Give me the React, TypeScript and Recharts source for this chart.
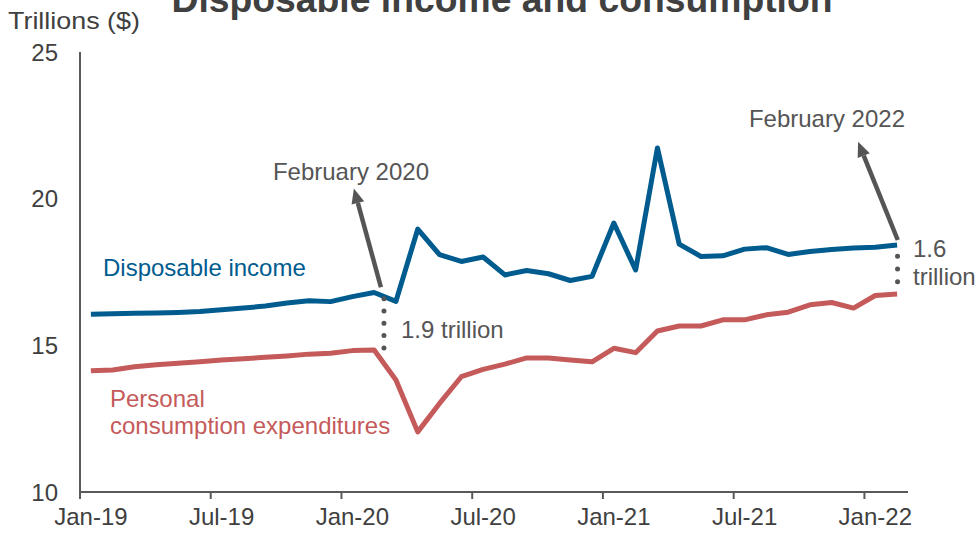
import { LineChart, Line, XAxis, YAxis, ReferenceLine } from "recharts";

const months = [
  "Jan-19", "Feb-19", "Mar-19", "Apr-19", "May-19", "Jun-19", "Jul-19", "Aug-19", "Sep-19", "Oct-19", "Nov-19", "Dec-19",
  "Jan-20", "Feb-20", "Mar-20", "Apr-20", "May-20", "Jun-20", "Jul-20", "Aug-20", "Sep-20", "Oct-20", "Nov-20", "Dec-20",
  "Jan-21", "Feb-21", "Mar-21", "Apr-21", "May-21", "Jun-21", "Jul-21", "Aug-21", "Sep-21", "Oct-21", "Nov-21", "Dec-21",
  "Jan-22", "Feb-22",
];

const disposableIncome = [
  16.06, 16.08, 16.09, 16.1, 16.12, 16.15, 16.21, 16.27, 16.34, 16.44, 16.52, 16.49,
  16.66, 16.8, 16.5, 18.96, 18.09, 17.86, 18.01, 17.4, 17.55, 17.44, 17.21, 17.35,
  19.17, 17.57, 21.73, 18.45, 18.03, 18.05, 18.28, 18.33, 18.1, 18.2, 18.27, 18.32,
  18.34, 18.42,
];

const consumption = [
  14.13, 14.16, 14.27, 14.34, 14.39, 14.44, 14.5, 14.54, 14.59, 14.64, 14.7, 14.73,
  14.82, 14.84, 13.82, 12.05, 13.02, 13.93, 14.18, 14.36, 14.57, 14.57, 14.5, 14.44,
  14.9, 14.75, 15.49, 15.66, 15.66, 15.87, 15.87, 16.04, 16.13, 16.38, 16.46, 16.27,
  16.7, 16.75,
];

const xTicks = [0, 6, 12, 18, 24, 30, 36];
const yTicks = [10, 15, 20, 25];

const data = months.map((m, i) => ({
  x: i + 0.5,
  month: m,
  income: disposableIncome[i],
  pce: consumption[i],
}));

const FONT = "'Liberation Sans', Arial, sans-serif";
const AXIS = "#595959";
const TEXT = "#404040";
const NOTE = "#555555";
const BLUE = "#005b8f";
const RED = "#c55a5a";
const FS = 24;

const W = 975;
const H = 533;
const M = { top: 52, right: 67, bottom: 0, left: 0 };
const Y_W = 80;
const X_H = 41;
const half = (W - M.right - Y_W) / months.length / 2;

const XTick = (props: any) => {
  const { x, y, payload } = props;
  return (
    <text x={x + half} y={y} dy="0.71em" textAnchor="middle" fill={TEXT} fontSize={FS} fontFamily={FONT}>
      {months[payload.value]}
    </text>
  );
};

const Arrow = (props: any) => {
  const { x1, y1, x2, y2 } = props;
  if ([x1, y1, x2, y2].some((v) => v === undefined || isNaN(v))) return null;
  // arrow points from (x1,y1) to (x2,y2)
  const dx = x2 - x1;
  const dy = y2 - y1;
  const len = Math.sqrt(dx * dx + dy * dy);
  const ux = dx / len;
  const uy = dy / len;
  const hl = 15;
  const hw = 6.5;
  const bx = x2 - ux * hl;
  const by = y2 - uy * hl;
  return (
    <g>
      <line x1={x1} y1={y1} x2={bx} y2={by} stroke={NOTE} strokeWidth={4.5} />
      <polygon
        points={`${x2},${y2} ${bx - uy * hw},${by + ux * hw} ${bx + uy * hw},${by - ux * hw}`}
        fill={NOTE}
      />
    </g>
  );
};

export default function App() {
  return (
    <div style={{ position: "absolute", left: 0, top: 0, width: W, height: H, overflow: "hidden", background: "#fff" }}>
      <LineChart width={W} height={H} data={data} margin={M}>
        <XAxis
          dataKey="x"
          type="number"
          domain={[0, 38]}
          ticks={xTicks}
          interval={0}
          height={X_H}
          stroke={AXIS}
          strokeWidth={2}
          tickSize={7}
          tickMargin={9}
          tick={<XTick />}
        />
        <YAxis
          type="number"
          domain={[10, 25]}
          ticks={yTicks}
          width={Y_W}
          stroke={AXIS}
          strokeWidth={2}
          tickLine={false}
          tickSize={0}
          tickMargin={22}
          tick={{ fill: TEXT, fontSize: FS, fontFamily: FONT }}
        />
        <Line
          dataKey="income"
          stroke={BLUE}
          strokeWidth={5}
          dot={false}
          activeDot={false}
          strokeLinejoin="round"
          isAnimationActive={false}
        />
        <Line
          dataKey="pce"
          stroke={RED}
          strokeWidth={5}
          dot={false}
          activeDot={false}
          strokeLinejoin="round"
          isAnimationActive={false}
        />
        <ReferenceLine
          segment={[{ x: 13.95, y: 16.59 }, { x: 13.95, y: 14.88 }]}
          stroke={NOTE}
          strokeWidth={5}
          strokeDasharray="0 12.3"
          strokeLinecap="round"
        />
        <ReferenceLine
          segment={[{ x: 37.52, y: 18.04 }, { x: 37.52, y: 17.16 }]}
          stroke={NOTE}
          strokeWidth={5}
          strokeDasharray="0 12.8"
          strokeLinecap="round"
        />
        <ReferenceLine segment={[{ x: 13.81, y: 16.98 }, { x: 12.57, y: 20.35 }]} shape={<Arrow />} />
        <ReferenceLine segment={[{ x: 37.53, y: 18.59 }, { x: 35.71, y: 21.94 }]} shape={<Arrow />} />
      </LineChart>
      <svg width={W} height={H} style={{ position: "absolute", left: 0, top: 0, pointerEvents: "none" }}>
        <text
          x={502}
          y={12}
          textAnchor="middle"
          fontSize={37}
          fontWeight="bold"
          fill={TEXT}
          fontFamily={FONT}
          textLength={661}
          lengthAdjust="spacingAndGlyphs"
        >
          Disposable income and consumption
        </text>
        <text x={8} y={29} fontSize={FS} fill={TEXT} fontFamily={FONT} textLength={132} lengthAdjust="spacingAndGlyphs">
          Trillions ($)
        </text>
        <text x={103} y={276} fontSize={FS} fill={BLUE} fontFamily={FONT}>
          Disposable income
        </text>
        <text x={110} y={407} fontSize={FS} fill={RED} fontFamily={FONT}>
          Personal
        </text>
        <text x={110} y={434} fontSize={FS} fill={RED} fontFamily={FONT}>
          consumption expenditures
        </text>
        <text x={429} y={180} textAnchor="end" fontSize={FS} fill={NOTE} fontFamily={FONT}>
          February 2020
        </text>
        <text x={401} y={338} fontSize={FS} fill={NOTE} fontFamily={FONT}>
          1.9 trillion
        </text>
        <text x={905} y={127} textAnchor="end" fontSize={FS} fill={NOTE} fontFamily={FONT}>
          February 2022
        </text>
        <text x={913} y={257} fontSize={FS} fill={NOTE} fontFamily={FONT}>
          1.6
        </text>
        <text x={913} y={285} fontSize={FS} fill={NOTE} fontFamily={FONT}>
          trillion
        </text>
      </svg>
    </div>
  );
}
